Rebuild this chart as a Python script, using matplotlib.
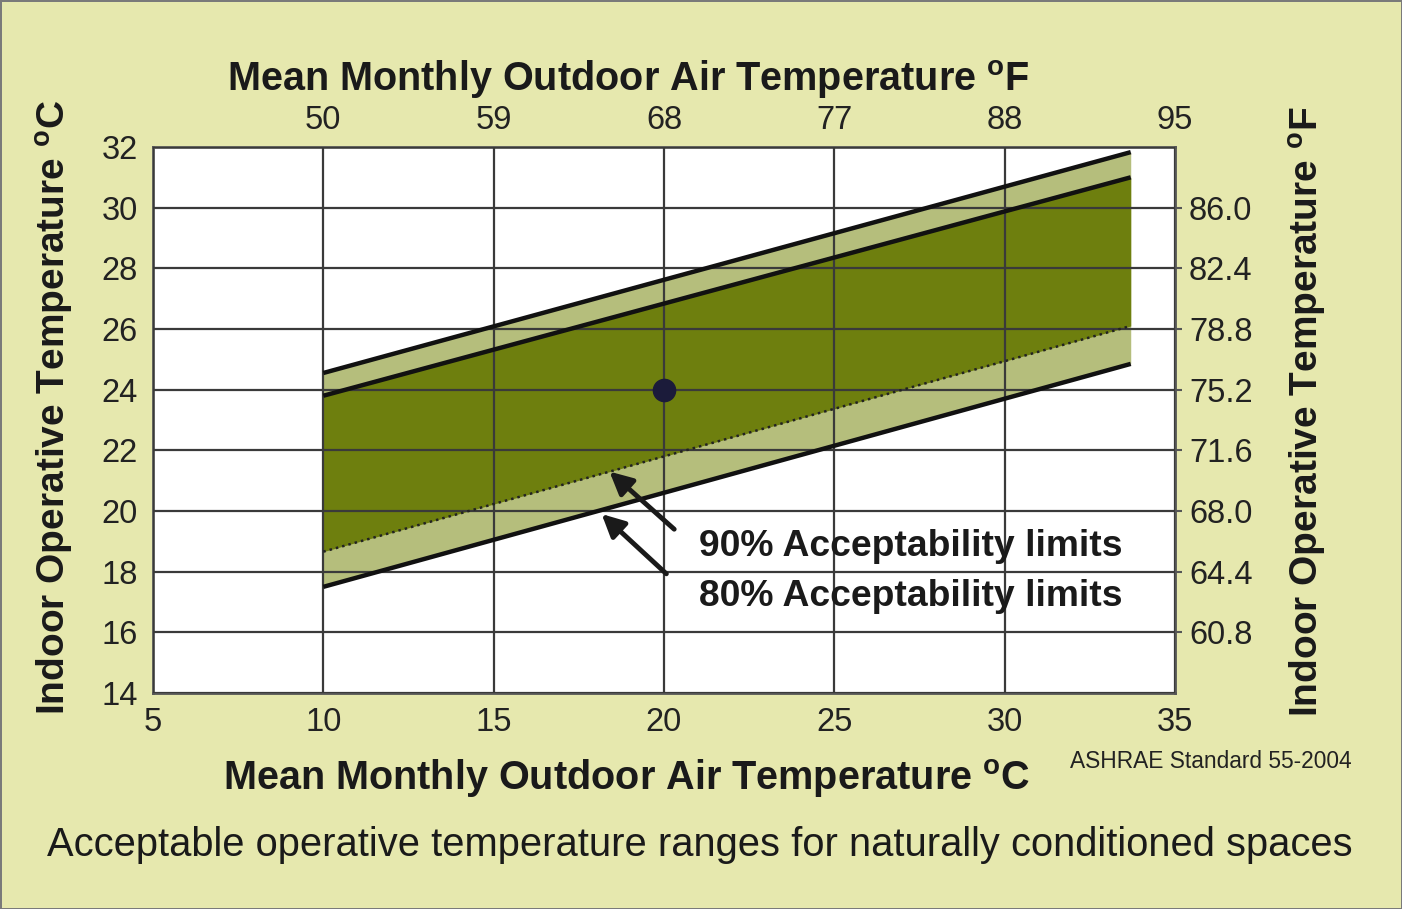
import matplotlib
matplotlib.use("Agg")
import matplotlib.pyplot as plt

plt.rcParams['font.family'] = ['Liberation Sans', 'DejaVu Sans']
plt.rcParams['mathtext.fontset'] = 'custom'
plt.rcParams['mathtext.rm'] = 'Liberation Sans'
plt.rcParams['mathtext.bf'] = 'Liberation Sans:bold'

# band end points (outdoor degC -> indoor degC)
out_t = [10, 33.7]
upper80 = [24.55, 31.83]
upper90 = [23.8, 31.0]
lower90 = [18.66, 26.1]
lower80 = [17.5, 24.85]

point_x = [20]
point_y = [24]

x_ticks = [5, 10, 15, 20, 25, 30, 35]
top_ticks = [10, 15, 20, 25, 30, 35]
top_labels = ['50', '59', '68', '77', '88', '95']
y_ticks = [14, 16, 18, 20, 22, 24, 26, 28, 30, 32]
right_ticks = [16, 18, 20, 22, 24, 26, 28, 30]
right_labels = ['60.8', '64.4', '68.0', '71.6', '75.2', '78.8', '82.4', '86.0']

bg = '#e6e8ae'
dark_green = '#6e7f0e'
light_green = '#b5be7c'
grid_c = '#3a3a3a'
tick_fs = 23.5

fig = plt.figure(figsize=(14.02, 9.09), dpi=100, facecolor=bg)
fig.patch.set_edgecolor('#7a7a7a')
fig.patch.set_linewidth(2)
ax = fig.add_axes([0.1091, 0.2376, 0.729, 0.6007])
ax.set_facecolor('white')
ax.set_xlim(5, 35)
ax.set_ylim(14, 32)

# bands
ax.fill_between(out_t, lower80, upper80, color=light_green, lw=0, zorder=1)
ax.fill_between(out_t, lower90, upper90, color=dark_green, lw=0, zorder=1.2)

ax.plot(out_t, upper80, color='#111111', lw=3.2, solid_capstyle='butt', zorder=3)
ax.plot(out_t, upper90, color='#111111', lw=3.2, solid_capstyle='butt', zorder=3)
ax.plot(out_t, lower80, color='#111111', lw=3.2, solid_capstyle='butt', zorder=3)
ax.plot(out_t, lower90, color='#222222', lw=1.8, ls=(0, (1, 1.6)), zorder=3)

ax.plot(point_x, point_y, 'o', color='#1b1b3a', ms=16, zorder=4)

# grid
ax.set_axisbelow(False)
ax.set_xticks(x_ticks)
ax.set_yticks(y_ticks)
ax.grid(True, color=grid_c, lw=1.6)
for s in ax.spines.values():
    s.set_color('#555555')
    s.set_linewidth(2)
ax.tick_params(axis='both', length=0, labelsize=tick_fs, colors='#222222')
ax.tick_params(axis='x', pad=10)
ax.tick_params(axis='y', pad=11)

# top axis in degF
axt = ax.twiny()
axt.set_xlim(ax.get_xlim())
axt.set_xticks(top_ticks)
axt.set_xticklabels(top_labels)
axt.tick_params(axis='x', length=0, labelsize=tick_fs, pad=8, colors='#222222')

# right axis in degF
axr = ax.twinx()
axr.set_ylim(ax.get_ylim())
axr.set_yticks(right_ticks)
axr.set_yticklabels(right_labels)
axr.tick_params(axis='y', length=5, width=1.5, direction='out',
                labelsize=tick_fs, pad=5)
axr.tick_params(axis='y', colors='#555555', labelcolor='#222222')
for a in (axt, axr):
    for s in a.spines.values():
        s.set_visible(False)

# annotations
ax.annotate('', xy=(18.4, 21.3), xytext=(20.3, 19.4),
            arrowprops=dict(arrowstyle='-|>', color='#1a1a1a', lw=3.5,
                            mutation_scale=34, shrinkA=0, shrinkB=0), zorder=5)
ax.annotate('', xy=(18.17, 19.9), xytext=(20.07, 17.93),
            arrowprops=dict(arrowstyle='-|>', color='#1a1a1a', lw=3.5,
                            mutation_scale=34, shrinkA=0, shrinkB=0), zorder=5)
ax.text(21.04, 18.82, '90% Acceptability limits', fontsize=26.8, fontweight='bold',
        va='center', ha='left', color='#1a1a1a', zorder=5)
ax.text(21.04, 17.17, '80% Acceptability limits', fontsize=26.8, fontweight='bold',
        va='center', ha='left', color='#1a1a1a', zorder=5)

# axis titles
fig.text(0.448, 0.912, r'Mean Monthly Outdoor Air Temperature $^{\mathbf{o}}$F',
         fontsize=28.5, fontweight='bold', ha='center', va='center', color='#1a1a1a')
fig.text(0.447, 0.144, r'Mean Monthly Outdoor Air Temperature $^{\mathbf{o}}$C',
         fontsize=28.5, fontweight='bold', ha='center', va='center', color='#1a1a1a')
fig.text(0.039, 0.552, r'Indoor Operative Temperature $^{\mathbf{o}}$C',
         fontsize=28, fontweight='bold', ha='center', va='center', rotation=90,
         color='#1a1a1a')
fig.text(0.933, 0.547, r'Indoor Operative Temperature $^{\mathbf{o}}$F',
         fontsize=28, fontweight='bold', ha='center', va='center', rotation=90,
         color='#1a1a1a')
fig.text(0.763, 0.162, 'ASHRAE Standard 55-2004', fontsize=16.4, ha='left',
         va='center', color='#222222')
fig.text(0.499, 0.070,
         'Acceptable operative temperature ranges for naturally conditioned spaces',
         fontsize=28.7, ha='center', va='center', color='#1a1a1a')

fig.savefig('out.png', dpi=100, facecolor=bg, edgecolor=fig.get_edgecolor())
